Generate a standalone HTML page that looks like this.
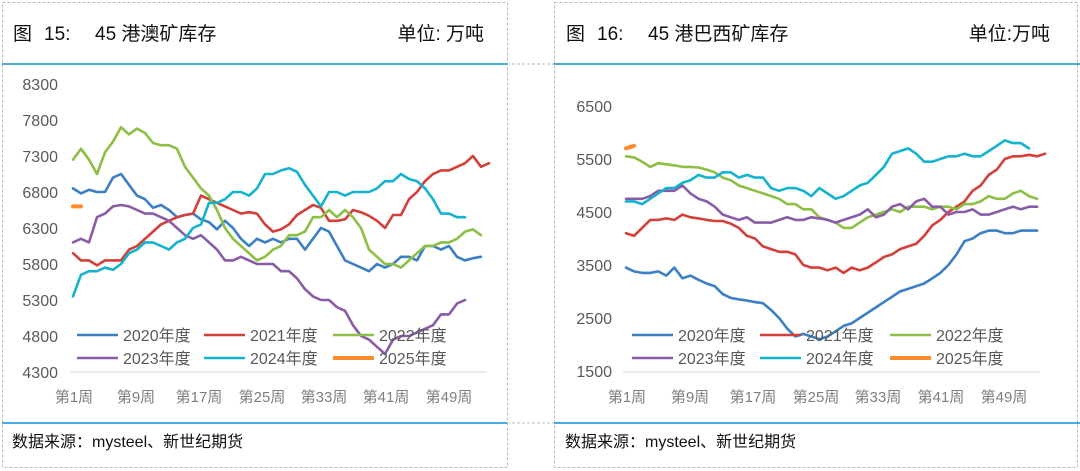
<!DOCTYPE html>
<html><head><meta charset="utf-8"><style>
body{margin:0;width:1080px;height:471px;background:#fff;overflow:hidden;font-family:"Liberation Sans","Noto Sans CJK SC",sans-serif;}
svg{position:absolute;left:0;top:0}
</style></head><body>
<svg id="s" width="1080" height="471" xmlns="http://www.w3.org/2000/svg" font-family="Liberation Sans, Noto Sans CJK SC, sans-serif">
<g stroke="#bbb" stroke-dasharray="3,2" fill="none" stroke-width="1">
<rect x="2.5" y="2.5" width="505" height="465"/>
<rect x="554.5" y="2.5" width="523" height="465"/>
<line x1="507" y1="64" x2="554" y2="64"/>
<line x1="507" y1="423" x2="554" y2="423"/>
</g>
<line x1="2" y1="64" x2="507" y2="64" stroke="#0a8fd6" stroke-width="1.5"/>
<line x1="554" y1="64" x2="1080" y2="64" stroke="#0a8fd6" stroke-width="1.5"/>
<line x1="2" y1="423" x2="507" y2="423" stroke="#0a8fd6" stroke-width="1.5"/>
<line x1="554" y1="423" x2="1080" y2="423" stroke="#0a8fd6" stroke-width="1.5"/>
<g font-size="19" fill="#111">
<text x="13" y="40">图</text>
<text x="44" y="40">15:</text>
<text x="95" y="40">45 港澳矿库存</text>
<text x="484" y="40" text-anchor="end">单位: 万吨</text>
<text x="566" y="40">图</text>
<text x="597" y="40">16:</text>
<text x="648" y="40">45 港巴西矿库存</text>
<text x="1050" y="40" text-anchor="end">单位:万吨</text>
</g>
<g font-size="16" fill="#111">
<text x="12" y="447">数据来源：mysteel、新世纪期货</text>
<text x="565" y="447">数据来源：mysteel、新世纪期货</text>
</g>
<g id="c"></g>
</svg>
<script>
var g=document.getElementById('c'),h='';
var cols=['#3b7fc4','#d43f3a','#8dbf44','#8a5ca8','#14b2cf','#ff8c2a'];
function ch(o){
 h+='<line x1="'+o.ax0+'" y1="372" x2="'+o.ax1+'" y2="372" stroke="#d9d9d9" stroke-width="1"/>';
 o.yl.forEach(function(v){var y=o.ys(v);h+='<text x="'+o.lx+'" y="'+(y+6)+'" font-size="16" fill="#595959" text-anchor="end">'+v+'</text>';});
 [1,9,17,25,33,41,49].forEach(function(w,i){h+='<text x="'+o.xl[i]+'" y="402" font-size="15" fill="#7f7f7f" text-anchor="middle">第'+w+'周</text>';});
 o.d.forEach(function(s,i){var p=s.map(function(v,k){return (o.x0+o.dx*k).toFixed(1)+','+o.ys(v).toFixed(1)}).join(' ');
  h+='<polyline points="'+p+'" fill="none" stroke="'+cols[i]+'" stroke-width="'+(i==5?4:2.6)+'" stroke-linejoin="round" stroke-linecap="round"/>';});
 var names=['2020年度','2021年度','2022年度','2023年度','2024年度','2025年度'];
 names.forEach(function(n,i){var c=i%3,r=Math.floor(i/3);var lx=o.lg[c],y=r?358:335;
  h+='<line x1="'+lx+'" y1="'+y+'" x2="'+(lx+41)+'" y2="'+y+'" stroke="'+cols[i]+'" stroke-width="'+(i==5?4:2.6)+'"/>';
  h+='<text x="'+(lx+46)+'" y="'+(y+6)+'" font-size="16" fill="#595959">'+n+'</text>';});
}
ch({ax0:70,ax1:487,lx:58,x0:73,dx:8.0,ys:function(v){return 84+(8300-v)*0.072},
 yl:[8300,7800,7300,6800,6300,5800,5300,4800,4300],xl:[74,136,199,262,324,386,449],lg:[77,204,333],
 d:[
 [6850,6780,6830,6800,6800,7000,7050,6900,6750,6700,6580,6620,6550,6450,6480,6500,6420,6380,6280,6400,6300,6150,6050,6150,6100,6150,6100,6150,6150,6000,6150,6300,6250,6050,5850,5800,5750,5700,5800,5750,5800,5900,5900,5850,6050,6050,6000,6050,5900,5850,5880,5900],
 [5950,5850,5850,5780,5850,5850,5850,6000,6050,6150,6250,6350,6400,6450,6480,6500,6750,6700,6650,6600,6550,6500,6520,6500,6350,6250,6280,6350,6480,6550,6620,6580,6400,6400,6420,6550,6520,6470,6400,6300,6480,6480,6700,6800,6950,7050,7100,7100,7150,7200,7300,7150,7200],
 [7250,7400,7250,7050,7350,7500,7700,7600,7680,7620,7480,7450,7450,7400,7150,7000,6850,6750,6550,6300,6150,6050,5950,5850,5900,6000,6050,6200,6200,6250,6450,6450,6550,6450,6550,6450,6300,6000,5900,5800,5800,5750,5850,5950,6050,6050,6100,6100,6150,6250,6280,6200],
 [6100,6150,6100,6450,6500,6600,6620,6600,6550,6500,6500,6450,6400,6300,6200,6150,6200,6100,6000,5850,5850,5900,5850,5800,5800,5800,5700,5700,5600,5450,5350,5300,5300,5200,5150,4950,4800,4750,4650,4550,4750,4800,4800,4850,4900,4950,5100,5100,5250,5300],
 [5350,5650,5700,5700,5750,5720,5800,5950,6000,6100,6100,6050,6000,6100,6150,6300,6350,6650,6650,6700,6800,6800,6750,6850,7050,7050,7100,7130,7080,6900,6750,6600,6800,6800,6750,6800,6800,6800,6850,6950,6950,7050,6980,6950,6850,6700,6500,6500,6450,6450],
 [6600,6600]]});
ch({ax0:623,ax1:1040,lx:612,x0:626,dx:8.06,ys:function(v){return 106+(6500-v)*0.053},
 yl:[6500,5500,4500,3500,2500,1500],xl:[627,690,753,816,878,941,1004],lg:[632,760,890],
 d:[
 [3450,3380,3350,3350,3380,3300,3450,3250,3300,3220,3150,3100,2950,2880,2850,2830,2800,2780,2650,2500,2300,2150,2200,2150,2100,2150,2250,2350,2400,2500,2600,2700,2800,2900,3000,3050,3100,3150,3250,3350,3500,3700,3950,4000,4100,4150,4150,4100,4100,4150,4150,4150],
 [4100,4050,4200,4350,4350,4380,4350,4450,4400,4380,4350,4330,4330,4280,4200,4050,4000,3850,3800,3750,3750,3700,3500,3450,3450,3400,3450,3350,3450,3400,3450,3550,3650,3700,3800,3850,3900,4050,4250,4350,4500,4600,4700,4900,5000,5200,5300,5500,5550,5550,5580,5550,5600],
 [5550,5530,5450,5350,5420,5400,5380,5350,5350,5340,5300,5250,5150,5100,5000,4950,4900,4850,4800,4750,4650,4650,4550,4550,4400,4350,4300,4200,4200,4300,4400,4450,4500,4550,4500,4600,4600,4600,4550,4600,4600,4550,4650,4650,4700,4800,4750,4750,4850,4900,4800,4750],
 [4750,4750,4750,4800,4900,4900,4900,5000,4850,4750,4700,4600,4450,4400,4350,4400,4300,4300,4300,4350,4400,4350,4350,4400,4380,4350,4300,4350,4400,4450,4550,4400,4450,4600,4650,4550,4700,4750,4600,4600,4450,4500,4500,4550,4450,4450,4500,4550,4600,4550,4600,4600],
 [4700,4700,4650,4750,4850,4950,4950,5050,5100,5200,5150,5150,5250,5250,5150,5200,5150,5150,4950,4900,4950,4950,4900,4800,4950,4850,4750,4800,4900,5000,5050,5200,5350,5600,5650,5700,5600,5450,5450,5500,5550,5550,5600,5550,5550,5650,5750,5850,5800,5800,5700],
 [5700,5750]]});
g.innerHTML=h;
</script>
</body></html>
